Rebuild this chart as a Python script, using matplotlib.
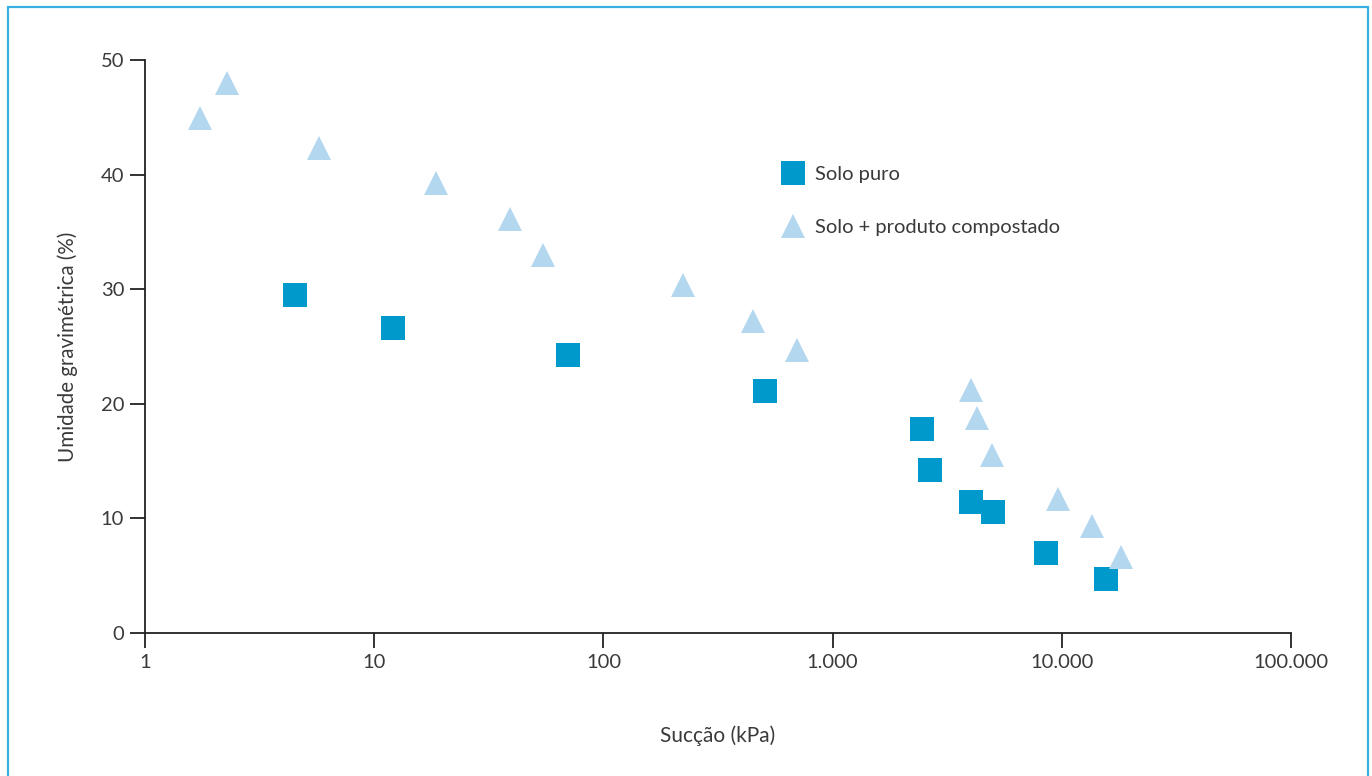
import matplotlib.pyplot as plt
import matplotlib.patches as patches
from matplotlib.ticker import FuncFormatter, FixedLocator, NullLocator

plt.rcParams['font.family'] = ['Lato', 'DejaVu Sans']

# Solo puro
puro_x = [4.5, 12.1, 70, 507, 2455, 2660, 4020, 5010, 8530, 15600]
puro_y = [29.5, 26.6, 24.3, 21.1, 17.8, 14.2, 11.4, 10.6, 7.0, 4.7]

# Solo + produto compostado
comp_x = [1.74, 2.28, 5.74, 18.6, 39.1, 54.5, 222, 449, 699, 4020, 4270, 4955, 9620, 13550, 18130]
comp_y = [44.9, 48.0, 42.3, 39.3, 36.1, 33.0, 30.4, 27.2, 24.7, 21.2, 18.8, 15.5, 11.7, 9.3, 6.6]

xticks = [1, 10, 100, 1000, 10000, 100000]
yticks = [0, 10, 20, 30, 40, 50]

dark_blue = '#0099cc'
light_blue = '#b3d7ee'
txt = '#3a3a3a'

fig = plt.figure(figsize=(13.72, 7.76), dpi=100)
ax = fig.add_axes([0.1057, 0.1843, 0.8353, 0.7384])

ax.plot(puro_x, puro_y, linestyle='none', marker='s', ms=17.5, color=dark_blue,
        markeredgewidth=0, label='Solo puro')
ax.plot(comp_x, comp_y, linestyle='none', marker='^', ms=17.5, color=light_blue,
        markeredgewidth=0, label='Solo + produto compostado')

ax.set_xscale('log')
ax.set_xlim(1, 100000)
ax.set_ylim(0, 50)
ax.xaxis.set_major_locator(FixedLocator(xticks))
ax.xaxis.set_minor_locator(NullLocator())
ax.yaxis.set_major_locator(FixedLocator(yticks))
ax.xaxis.set_major_formatter(FuncFormatter(lambda v, p: f"{int(round(v)):,}".replace(",", ".")))

for s in ['top', 'right']:
    ax.spines[s].set_visible(False)
for s in ['left', 'bottom']:
    ax.spines[s].set_linewidth(1.3)
    ax.spines[s].set_color('#222222')

ax.tick_params(axis='both', length=11, width=1.3, color='#222222', labelsize=14.5,
               labelcolor=txt, pad=4)

ax.set_xlabel('Sucção (kPa)', fontsize=15, color=txt, labelpad=39)
ax.set_ylabel('Umidade gravimétrica (%)', fontsize=14.8, color=txt, labelpad=16)

leg = ax.legend(loc='center left', bbox_to_anchor=(0.553, 0.754), frameon=False,
                fontsize=14.5, labelspacing=1.75, handletextpad=0.35, handlelength=1.45,
                borderaxespad=0, borderpad=0)
for t in leg.get_texts():
    t.set_color(txt)

border = patches.Rectangle((8 / 1372, -0.05), (1368 - 8) / 1372, 0.05 + (776 - 7) / 776,
                           transform=fig.transFigure, fill=False, edgecolor='#3ab0e0',
                           linewidth=1.6, clip_on=False)
fig.patches.append(border)

fig.savefig('out.png', dpi=100)
